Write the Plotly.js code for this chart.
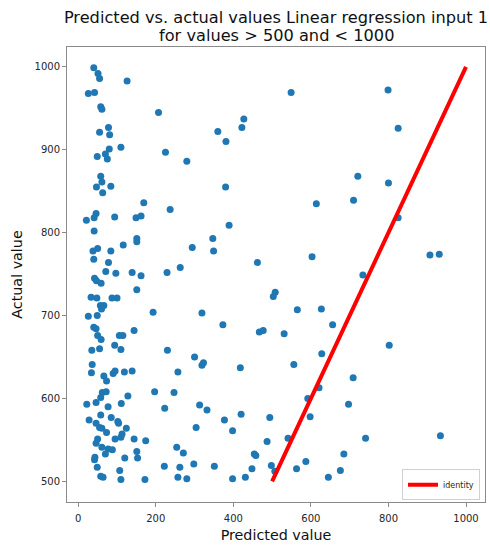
<!DOCTYPE html>
<html>
<head>
<meta charset="utf-8">
<script src="https://cdn.plot.ly/plotly-3.0.1.min.js"></script>
<style>html,body{margin:0;padding:0;background:#fff;}#chart{width:490px;height:546px;}</style>
</head>
<body>
<div id="chart"></div>
<script>
var predicted = [40,51,55,126,26,42,58,61,207,78,55,81,80,110,70,49,75,225,280,58,61,47,84,63,169,237,46,41,21,94,149,162,41,151,151,116,50,38,84,294,40,78,71,97,139,162,229,263,42,47,59,151,33,48,87,100,57,66,60,26,49,193,319,40,46,50,59,144,106,115,35,55,94,110,230,300,323,319,36,34,66,73,90,95,119,139,257,62,72,58,46,22,77,111,128,197,247,223,313,332,28,58,46,85,102,104,55,61,73,124,304,113,95,110,144,174,50,46,61,77,88,70,43,42,120,151,153,254,271,49,107,222,262,298,58,64,110,172,257,280,
549,427,422,360,381,380,614,389,347,349,462,603,508,503,373,565,627,656,467,477,531,418,556,628,621,592,420,494,598,377,398,487,541,454,458,351,448,498,507,563,587,676,645,398,431,
799,825,721,800,710,825,907,931,734,802,709,697,741,934,685];
var actual = [999,992,986,983,968,969,952,949,945,927,921,918,901,903,895,892,889,897,886,868,861,855,856,848,836,828,823,818,815,819,818,820,802,793,789,785,781,778,778,782,768,764,753,751,752,748,752,758,745,742,739,731,722,721,721,721,712,712,708,699,700,704,703,686,684,676,671,682,676,676,658,660,664,659,658,650,643,640,641,631,627,621,630,633,632,633,632,607,608,601,595,593,590,594,603,608,607,588,592,586,574,580,570,577,572,570,565,564,559,564,565,557,551,553,551,549,551,546,541,539,538,533,529,526,528,536,528,541,534,517,513,518,517,521,506,505,502,502,505,503,
969,937,927,922,910,855,835,809,793,778,764,771,728,723,689,707,708,689,680,682,678,637,641,654,613,600,581,577,578,574,561,548,552,533,531,518,515,519,512,515,524,513,505,503,505,
972,926,868,860,839,818,773,774,749,664,625,593,552,555,533];
var identityX = [500, 1000];
var identityY = [500, 1000];
var xTicks = [0, 200, 400, 600, 800, 1000];
var yTicks = [500, 600, 700, 800, 900, 1000];
var titleLines = ['Predicted vs. actual values Linear regression input 1', 'for values > 500 and < 1000'];

var traces = [
  {x: predicted, y: actual, mode: 'markers', type: 'scatter', showlegend: false,
   marker: {color: '#1f77b4', size: 7}},
  {x: identityX, y: identityY, mode: 'lines', type: 'scatter', name: 'identity',
   line: {color: '#ff0000', width: 4}}
];
var axisCommon = {showgrid: false, zeroline: false, showline: true, mirror: true,
  linecolor: '#8a8a8a', linewidth: 1, ticks: 'outside', ticklen: 4, tickcolor: '#8a8a8a',
  tickfont: {family: 'DejaVu Sans', size: 10, color: '#262626'}};
var layout = {
  width: 490, height: 546,
  margin: {l: 67, r: 5, t: 47, b: 43.5},
  paper_bgcolor: '#fff', plot_bgcolor: '#fff',
  font: {family: 'DejaVu Sans', color: '#262626'},
  title: {text: titleLines[0],
    font: {family: 'DejaVu Sans', size: 16.2, color: '#111'},
    x: 0.5, xref: 'paper', y: 1 - 17.5 / 546, yref: 'container', yanchor: 'middle'},
  annotations: [{text: titleLines[1], showarrow: false, xref: 'paper', yref: 'paper',
    x: 0.5, xanchor: 'center', y: 1 + (47 - 35) / 455.5, yanchor: 'middle', borderpad: 0,
    font: {family: 'DejaVu Sans', size: 16.2, color: '#111'}}],
  xaxis: Object.assign({}, axisCommon, {range: [-29, 1049], tickvals: xTicks, ticklabelstandoff: 3,
    title: {text: 'Predicted value', font: {family: 'DejaVu Sans', size: 14.3, color: '#111'}, standoff: 6}}),
  yaxis: Object.assign({}, axisCommon, {range: [475, 1024], tickvals: yTicks,
    title: {text: 'Actual value', font: {family: 'DejaVu Sans', size: 14.3, color: '#111'}, standoff: 8}}),
  legend: {x: 0.988, xanchor: 'right', y: 0.004, yanchor: 'bottom', bgcolor: 'rgba(255,255,255,0.8)',
    bordercolor: '#d0d0d0', borderwidth: 1, font: {family: 'DejaVu Sans', size: 8, color: '#262626'},
    itemwidth: 30}
};
Plotly.newPlot('chart', traces, layout, {staticPlot: true, displayModeBar: false});
</script>
</body>
</html>
